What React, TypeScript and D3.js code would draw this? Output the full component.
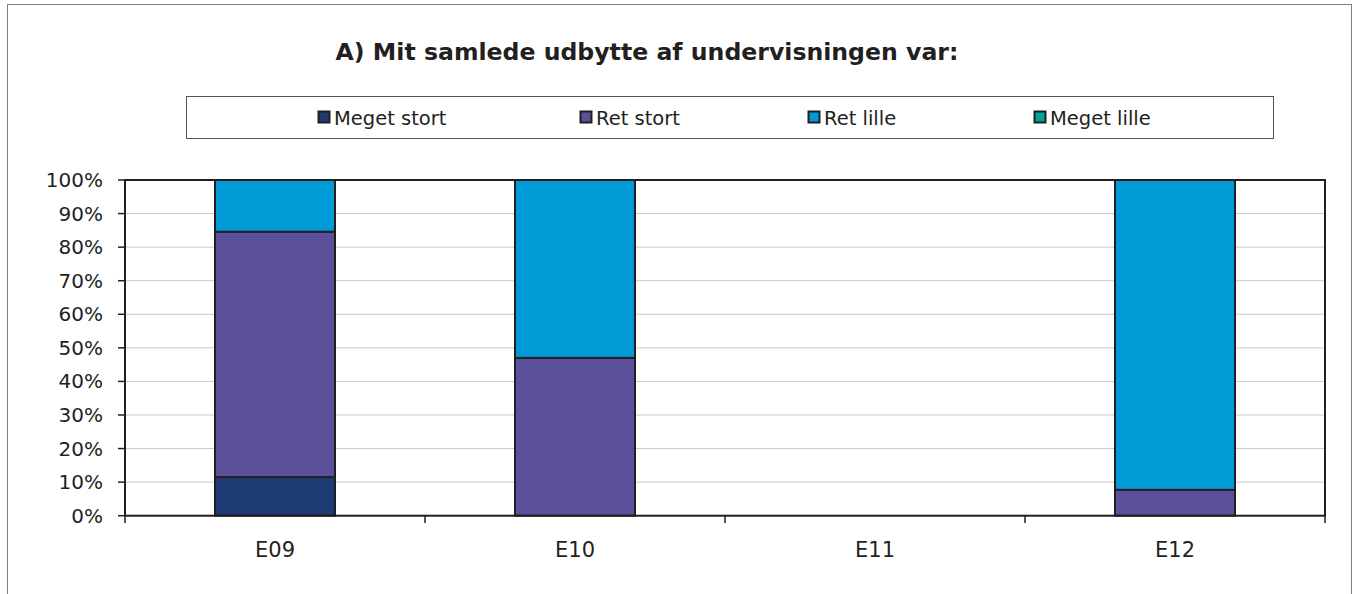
import React from "react";
import * as d3 from "d3";

const categories = ["E09", "E10", "E11", "E12"];
const seriesNames = ["Meget stort", "Ret stort", "Ret lille", "Meget lille"];
const megetStort = [0.115, 0, 0, 0];
const retStort = [0.731, 0.47, 0, 0.077];
const retLille = [0.154, 0.53, 0, 0.923];
const megetLille = [0, 0, 0, 0];
const yTicks = [0, 0.1, 0.2, 0.3, 0.4, 0.5, 0.6, 0.7, 0.8, 0.9, 1.0];
const title = "A) Mit samlede udbytte af undervisningen var:";
const colors = ["#1f3b73", "#5b519b", "#009bd6", "#00a59a"];

const W = 1353;
const H = 594;
const FONT = "'DejaVu Sans', sans-serif";

export default function App() {
  const left = 125, right = 1325, top = 180, bottom = 515.7;
  const x = d3.scaleBand<string>().domain(categories).range([left, right]).paddingInner(0.6).paddingOuter(0.3);
  const xOuter = d3.scaleBand<string>().domain(categories).range([left, right]);
  const y = d3.scaleLinear().domain([0, 1]).range([bottom, top]);

  const rows = categories.map((c, i) => ({
    cat: c,
    [seriesNames[0]]: megetStort[i],
    [seriesNames[1]]: retStort[i],
    [seriesNames[2]]: retLille[i],
    [seriesNames[3]]: megetLille[i],
  }));
  const stacked = d3.stack<any>().keys(seriesNames)(rows);

  const legendX = [318, 580, 808, 1034];

  return (
    <svg width={W} height={H} style={{ position: "absolute", left: 0, top: 0, display: "block" }}>
      <rect x={0} y={0} width={W} height={H} fill="#fff" />
      <rect x={7.5} y={4.5} width={1344} height={620} fill="#fff" stroke="#808080" strokeWidth={1} />
      <text x={647} y={60} textAnchor="middle" fontFamily={FONT} fontWeight="bold" fontSize={23.6} fill="#231f20">
        {title}
      </text>
      {/* legend */}
      <rect x={186.5} y={96.5} width={1087} height={42} fill="#fff" stroke="#555" strokeWidth={1} />
      {seriesNames.map((s, i) => (
        <g key={s}>
          <rect x={legendX[i] + 0.5} y={111.5} width={11} height={11} fill={colors[i]} stroke="#231f20" strokeWidth={2} />
          <text x={legendX[i] + 16} y={124.5} fontFamily={FONT} fontSize={19.5} fill="#231f20">
            {s}
          </text>
        </g>
      ))}
      {/* grid */}
      {yTicks.map((t) => (
        <line key={t} x1={left} x2={right} y1={y(t)} y2={y(t)} stroke="#c8c8c8" strokeWidth={1} />
      ))}
      {/* bars */}
      {stacked.map((layer, si) =>
        layer.map((d, ci) =>
          d[1] - d[0] > 0 ? (
            <rect
              key={si + "-" + ci}
              x={x(categories[ci])}
              y={y(d[1])}
              width={x.bandwidth()}
              height={y(d[0]) - y(d[1])}
              fill={colors[si]}
              stroke="#231f20"
              strokeWidth={2}
            />
          ) : null
        )
      )}
      {/* plot border */}
      <rect x={left} y={top} width={right - left} height={bottom - top} fill="none" stroke="#231f20" strokeWidth={2} />
      {/* y axis ticks and labels */}
      {yTicks.map((t) => (
        <g key={"yt" + t}>
          <line x1={118} x2={left} y1={y(t)} y2={y(t)} stroke="#231f20" strokeWidth={1.5} />
          <text x={103} y={y(t) + 7} textAnchor="end" fontFamily={FONT} fontSize={20} fill="#231f20">
            {d3.format(".0%")(t)}
          </text>
        </g>
      ))}
      {/* x axis ticks */}
      {categories.concat(["end"]).map((c, i) => {
        const xx = i < categories.length ? (xOuter(c) as number) : right;
        return <line key={"xt" + i} x1={xx} x2={xx} y1={bottom} y2={523} stroke="#231f20" strokeWidth={1.5} />;
      })}
      {categories.map((c) => (
        <text key={"xl" + c} x={(x(c) as number) + x.bandwidth() / 2} y={557} textAnchor="middle" fontFamily={FONT} fontSize={21} fill="#231f20">
          {c}
        </text>
      ))}
    </svg>
  );
}
